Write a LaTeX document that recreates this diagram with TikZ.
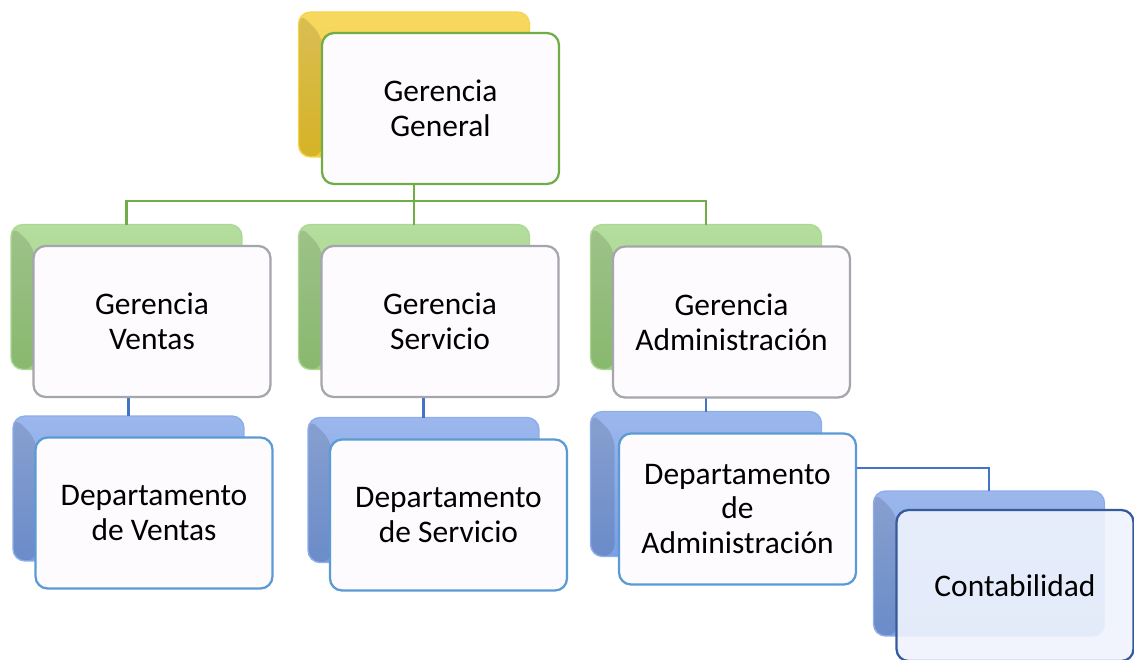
\documentclass[tikz,border=0pt]{standalone}
\usepackage{fontspec}
\setmainfont{Carlito}
\usepackage{tikz}
\usepackage{xcolor}
\definecolor{gold}{HTML}{F4CC2C}
\definecolor{leaf}{HTML}{9CD27E}
\definecolor{sky}{HTML}{7A9FE6}
\definecolor{leafline}{HTML}{70AD47}
\definecolor{skyline}{HTML}{4472C4}
\definecolor{boxline}{HTML}{5B9BD5}
\definecolor{greyline}{HTML}{A5A5AD}
\definecolor{paper}{HTML}{FDFBFD}

\begin{document}
\begin{tikzpicture}[x=0.02cm, y=-0.02cm,
        backbox/.style={rounded corners=0.24cm, minimum width=4.62cm, minimum height=2.9cm,
            inner sep=0pt, outer sep=0pt, top color=#1!75!white, bottom color=#1,
            draw=#1!85!white, line width=0.8pt,
            path picture={\fill[black, opacity=0.12] (path picture bounding box.north west)
                -- ++(24,24) -- ([xshift=0.48cm]path picture bounding box.south west)
                -- (path picture bounding box.south west) -- cycle;}},
        frontbox/.style={draw=#1, line width=1.3pt, rounded corners=0.24cm, fill=paper,
            minimum width=4.74cm, minimum height=3.02cm, inner sep=0pt, outer sep=0pt,
            align=center, font=\fontsize{17.9}{19.9}\selectfont},
        greenconn/.style={leafline, line width=1.6pt},
        blueconn/.style={skyline, line width=1.6pt}]
        \useasboundingbox (0,0) rectangle (1134,660);

        % shadow boxes
        \node[backbox=gold] (ggs) at (414,84.5) {};
        \node[backbox=leaf] (gvs) at (126.5,297) {};
        \node[backbox=leaf] (gss) at (414,297) {};
        \node[backbox=leaf] (gas) at (706,297) {};
        \node[backbox=sky] (dvs) at (128.5,488.5) {};
        \node[backbox=sky] (dss) at (423.5,490) {};
        \node[backbox=sky] (das) at (706,484) {};
        \node[backbox=sky] (cs) at (989,563.5) {};

        % connectors
        \coordinate (bus) at (0,201);
        \draw[greenconn] (414,184) |- (bus -| gvs) -- (gvs.north);
        \draw[greenconn] (414,184) |- (bus -| gas) -- (gas.north);
        \draw[greenconn] (414,184) -- (gss.north);
        \foreach \sub in {dvs, dss, das} {
            \draw[blueconn] (\sub.north |- 0,397) -- (\sub.north);
        }
        \draw[blueconn] (856,468) -| (cs.north);

        % front boxes
        \node[frontbox=leafline] (gg) at (440.5,108.5) {Gerencia\\General};
        \node[frontbox=greyline] (gv) at (152,321.5) {Gerencia\\Ventas};
        \node[frontbox=greyline] (gs) at (440,321.5) {Gerencia\\Servicio};
        \node[frontbox=greyline] (ga) at (731.5,322) {Gerencia\\Administración};
        \node[frontbox=boxline] (dv) at (154,513) {Departamento\\de Ventas};
        \node[frontbox=boxline] (ds) at (448.5,515) {Departamento\\de Servicio};
        \node[frontbox=boxline] (da) at (737.5,509) {Departamento\\de\\Administración};
        \node[frontbox=skyline!80!black, fill=sky!12!white, fill opacity=0.9, text opacity=1]
            (c) at (1015,585.5) {Contabilidad};
    \end{tikzpicture}
\end{document}
